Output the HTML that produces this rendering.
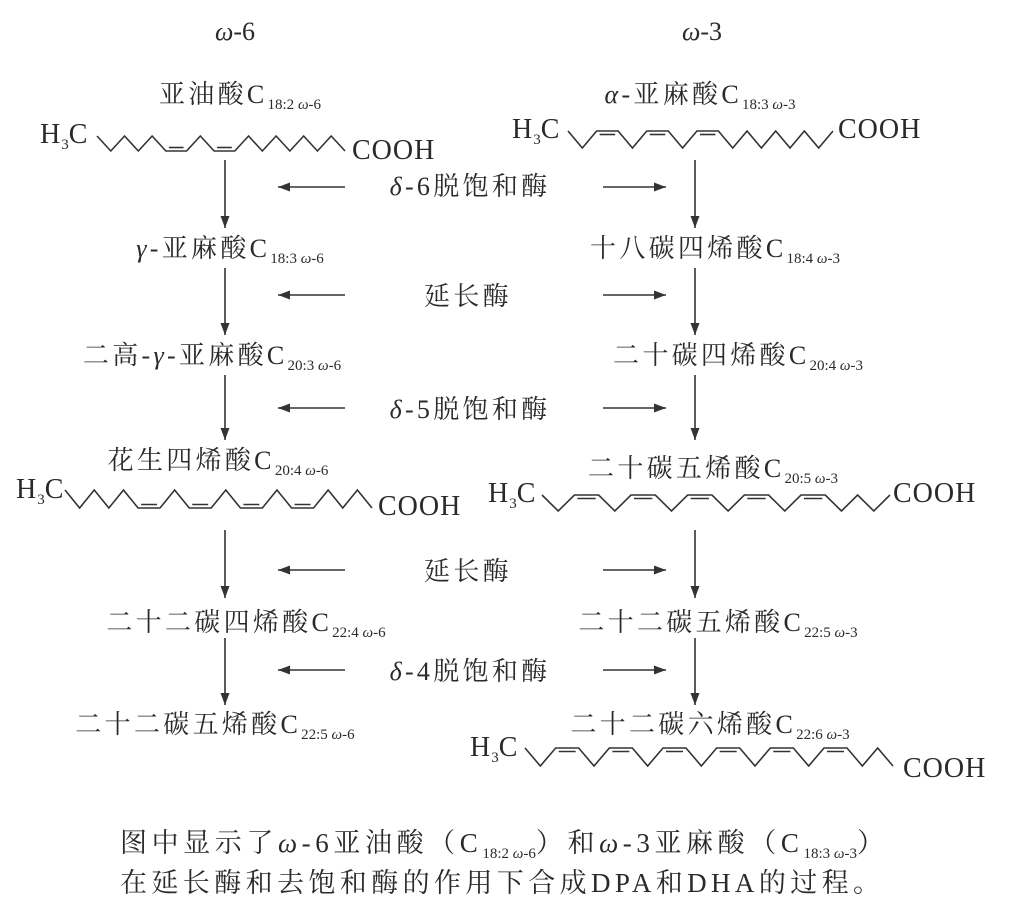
<!DOCTYPE html>
<html><head><meta charset="utf-8">
<style>
body{margin:0;background:#fff;}
#c{position:relative;width:1020px;height:922px;overflow:hidden;font-family:"Liberation Serif","Noto Serif CJK SC",serif;color:#2a2a2a;}
.t{position:absolute;white-space:nowrap;font-size:26px;letter-spacing:3.3px;line-height:1;transform:translateX(-50%);}
.l{position:absolute;white-space:nowrap;font-size:28px;letter-spacing:1px;line-height:1;}
sub{font-size:15px;letter-spacing:0;vertical-align:-6px;line-height:0;}
i{font-style:italic;}
svg{position:absolute;left:0;top:0;}
</style></head><body><div id="c">
<svg id="s" width="1020" height="922" stroke="#333" fill="none" stroke-width="1.6"></svg>

<div class="t" style="left:235px;top:19px;letter-spacing:0"><i>ω</i>-6</div>
<div class="t" style="left:702px;top:19px;letter-spacing:0"><i>ω</i>-3</div>

<div class="t" style="left:240px;top:82px">亚油酸C<sub>18:2 <i>ω</i>-6</sub></div>
<div class="t" style="left:700px;top:82px"><i>α</i>-亚麻酸C<sub>18:3 <i>ω</i>-3</sub></div>
<div class="t" style="left:470px;top:174px"><i>δ</i>-6脱饱和酶</div>
<div class="t" style="left:230px;top:236px"><i>γ</i>-亚麻酸C<sub>18:3 <i>ω</i>-6</sub></div>
<div class="t" style="left:715px;top:236px">十八碳四烯酸C<sub>18:4 <i>ω</i>-3</sub></div>
<div class="t" style="left:468px;top:284px">延长酶</div>
<div class="t" style="left:212px;top:343px">二高-<i>γ</i>-亚麻酸C<sub>20:3 <i>ω</i>-6</sub></div>
<div class="t" style="left:738px;top:343px">二十碳四烯酸C<sub>20:4 <i>ω</i>-3</sub></div>
<div class="t" style="left:470px;top:397px"><i>δ</i>-5脱饱和酶</div>
<div class="t" style="left:218px;top:448px">花生四烯酸C<sub>20:4 <i>ω</i>-6</sub></div>
<div class="t" style="left:713px;top:456px">二十碳五烯酸C<sub>20:5 <i>ω</i>-3</sub></div>
<div class="t" style="left:468px;top:559px">延长酶</div>
<div class="t" style="left:246px;top:610px">二十二碳四烯酸C<sub>22:4 <i>ω</i>-6</sub></div>
<div class="t" style="left:718px;top:610px">二十二碳五烯酸C<sub>22:5 <i>ω</i>-3</sub></div>
<div class="t" style="left:470px;top:659px"><i>δ</i>-4脱饱和酶</div>
<div class="t" style="left:215px;top:712px">二十二碳五烯酸C<sub>22:5 <i>ω</i>-6</sub></div>
<div class="t" style="left:710px;top:712px">二十二碳六烯酸C<sub>22:6 <i>ω</i>-3</sub></div>

<div class="l" style="left:40px;top:121px">H<sub>3</sub>C</div>
<div class="l" style="left:352px;top:137px">COOH</div>
<div class="l" style="left:512px;top:116px">H<sub>3</sub>C</div>
<div class="l" style="left:838px;top:116px">COOH</div>
<div class="l" style="left:16px;top:476px">H<sub>3</sub>C</div>
<div class="l" style="left:378px;top:493px">COOH</div>
<div class="l" style="left:488px;top:480px">H<sub>3</sub>C</div>
<div class="l" style="left:893px;top:480px">COOH</div>
<div class="l" style="left:470px;top:734px">H<sub>3</sub>C</div>
<div class="l" style="left:903px;top:755px">COOH</div>

<div class="l" style="left:120px;top:830px;font-size:27px;letter-spacing:4.6px">图中显示了<i>ω</i>-6亚油酸（C<sub>18:2 <i>ω</i>-6</sub>）和<i>ω</i>-3亚麻酸（C<sub>18:3 <i>ω</i>-3</sub>）</div>
<div class="l" style="left:120px;top:870px;font-size:27px;letter-spacing:4.4px">在延长酶和去饱和酶的作用下合成DPA和DHA的过程。</div>
</div>
<script>
var s=document.getElementById('s'),NS='http://www.w3.org/2000/svg';
function el(n,a){var e=document.createElementNS(NS,n);for(var k in a)e.setAttribute(k,a[k]);s.appendChild(e);return e;}
function chain(x0,x1,yt,yb,pat){
  var n=0,m=0;for(var c of pat){if(c=='=')m++;else n++;}
  var st=(x1-x0)/(n+1.5*m),w=1.5*st;
  var x=x0,y=yt,pts=[[x,y]];
  for(var c of pat){
    if(c=='d'){x+=st;y=yb;pts.push([x,y]);}
    else if(c=='u'){x+=st;y=yt;pts.push([x,y]);}
    else{var off=(y==yb)?-3.5:3.5;el('line',{x1:x+3,y1:y+off,x2:x+w-3,y2:y+off});x+=w;pts.push([x,y]);}
  }
  el('polyline',{points:pts.map(p=>p.join(',')).join(' ')});
}
chain(97,345,136,151,'dudud=ud=udududud');
chain(568,833,131,148,'du=du=du=dudududu');
chain(65,372,490,508,'dudud=ud=ud=ud=udud');
chain(542,890,495,511,'du=du=du=du=du=dudu');
chain(525,893,748,766,'du=du=du=du=du=du=dud');
function arr(x1,y1,x2,y2){
  el('line',{x1:x1,y1:y1,x2:x2,y2:y2});
  var dx=x2-x1,dy=y2-y1,L=Math.hypot(dx,dy),ux=dx/L,uy=dy/L,h=12,ww=4.5;
  el('polygon',{points:x2+','+y2+' '+(x2-ux*h-uy*ww)+','+(y2-uy*h+ux*ww)+' '+(x2-ux*h+uy*ww)+','+(y2-uy*h-ux*ww),fill:'#333',stroke:'none'});
}
var V=[[160,228],[268,335],[375,440],[530,598],[638,705]];
V.forEach(v=>{arr(225,v[0],225,v[1]);arr(695,v[0],695,v[1]);});
[187,295,408,570,670].forEach(y=>{arr(345,y,278,y);arr(603,y,666,y);});
</script>
</body></html>
